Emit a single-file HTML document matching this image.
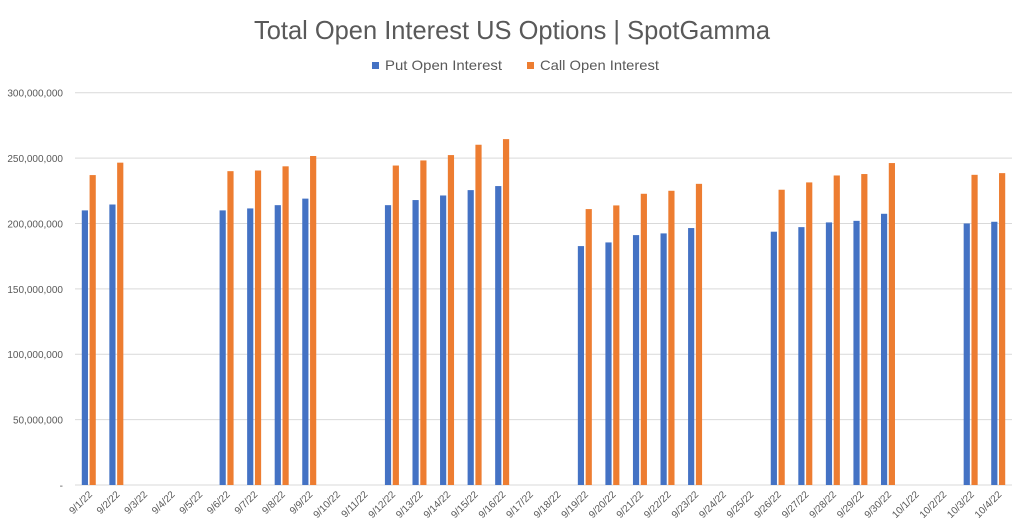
<!DOCTYPE html>
<html><head><meta charset="utf-8"><style>
html,body{margin:0;padding:0;background:#fff;}
svg{display:block;font-family:"Liberation Sans",sans-serif;}
</style></head><body>
<svg id="chart" width="1024" height="530" viewBox="0 0 1024 530">
<text x="512" y="39" text-anchor="middle" font-size="26" fill="#595959" textLength="516" lengthAdjust="spacingAndGlyphs">Total Open Interest US Options | SpotGamma</text>
<g>
<rect x="372" y="62" width="7" height="7" fill="#4472C4"/>
<text x="385" y="70" font-size="14" fill="#595959" textLength="117" lengthAdjust="spacingAndGlyphs">Put Open Interest</text>
<rect x="527" y="62" width="7" height="7" fill="#ED7D31"/>
<text x="540" y="70" font-size="14" fill="#595959" textLength="119" lengthAdjust="spacingAndGlyphs">Call Open Interest</text>
</g>
<g id="grid"></g><g id="bars"></g><g id="xlabels"></g>
</svg>
<script>
const categories=["9/1/22","9/2/22","9/3/22","9/4/22","9/5/22","9/6/22","9/7/22","9/8/22","9/9/22","9/10/22","9/11/22","9/12/22","9/13/22","9/14/22","9/15/22","9/16/22","9/17/22","9/18/22","9/19/22","9/20/22","9/21/22","9/22/22","9/23/22","9/24/22","9/25/22","9/26/22","9/27/22","9/28/22","9/29/22","9/30/22","10/1/22","10/2/22","10/3/22","10/4/22"];
const putValues=[210,214.5,null,null,null,210,211.5,214,219,null,null,214,217.9,221.4,225.5,228.6,null,null,182.7,185.5,191.1,192.4,196.5,null,null,193.7,197.2,200.8,202,207.4,null,null,200,201.3];
const callValues=[237,246.5,null,null,null,240,240.5,243.7,251.6,null,null,244.3,248.2,252.3,260.2,264.5,null,null,211,213.8,222.7,225,230.3,null,null,225.8,231.4,236.7,237.8,246.2,null,null,237.2,238.5];
const yTicks=[0,50,100,150,200,250,300];
const yTickLabels=["-","50,000,000","100,000,000","150,000,000","200,000,000","250,000,000","300,000,000"];
const NS="http://www.w3.org/2000/svg";
const L=75,R=1012,T=92.7,B=485,YMAX=300;
const bw=(R-L)/categories.length;
function y(v){return B-(v/YMAX)*(B-T);}
function xc(i){return L+bw*(i+0.5);}
function mk(t,a,p){const e=document.createElementNS(NS,t);for(const k in a)e.setAttribute(k,a[k]);p.appendChild(e);return e;}
const grid=document.getElementById('grid');
yTicks.forEach((v,i)=>{
 const ln=mk('line',{x1:L,x2:R,y1:y(v),y2:y(v),stroke:'#d9d9d9','stroke-width':1},grid);
 
 
 const t=mk('text',{x:63,y:y(v)+4,'text-anchor':'end','font-size':10,fill:'#595959'},grid);
 t.textContent=yTickLabels[i];
 
 
});
const bars=document.getElementById('bars');
categories.forEach((c,i)=>{
 if(putValues[i]!=null){
  const r=mk('rect',{x:xc(i)-7,y:y(putValues[i]),width:6.2,height:B-y(putValues[i]),fill:'#4472C4'},bars);
  
  
 }
 if(callValues[i]!=null){
  const r=mk('rect',{x:xc(i)+0.8,y:y(callValues[i]),width:6.2,height:B-y(callValues[i]),fill:'#ED7D31'},bars);
  
  
 }
 const xl=document.getElementById('xlabels');
 const t=mk('text',{x:0,y:0,'text-anchor':'end','font-size':10,fill:'#595959',transform:'translate('+(xc(i)+4)+','+(B+10)+') rotate(-45)'},xl);
 t.textContent=c;
 
 
});
</script>
</body></html>
